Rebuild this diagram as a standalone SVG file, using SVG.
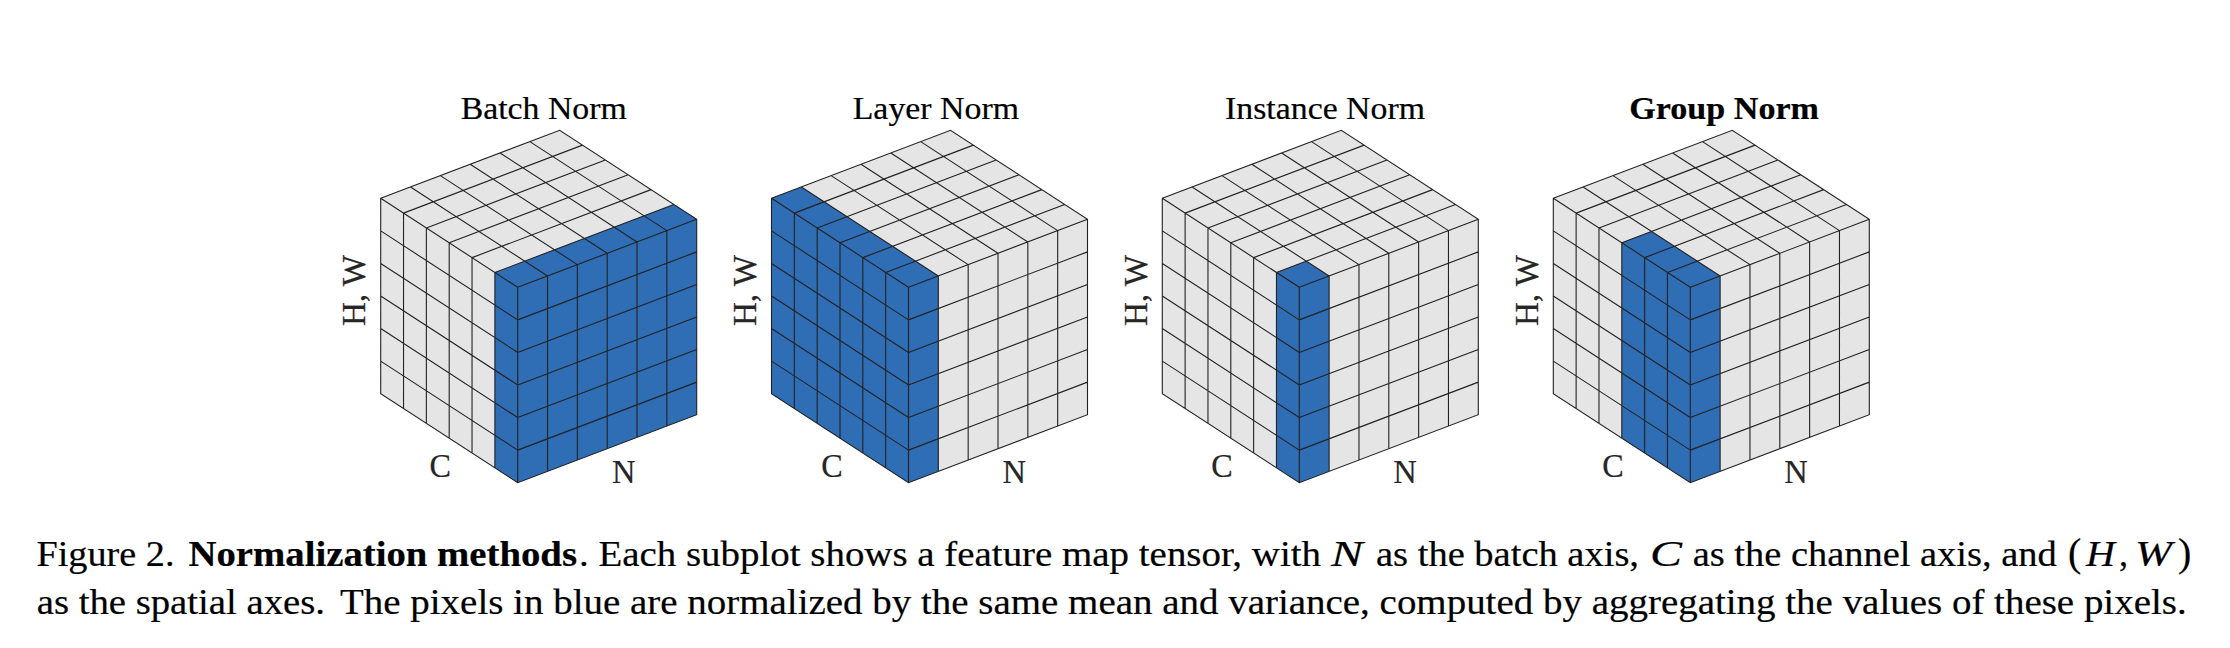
<svg xmlns="http://www.w3.org/2000/svg" width="2230" height="648" viewBox="0 0 2230 648">
<style>
text{font-family:"Liberation Serif","Times New Roman",serif;fill:#000;stroke:#000;stroke-width:.2px}
.title{font-size:32px}
.axis{font-size:34px;fill:#262626;stroke:#262626}
.cap{font-size:36px}
.b{font-weight:bold}
.i{font-style:italic}
.face{fill:#e5e5e5}
.blue{fill:#2f6db5}
.grid{fill:none;stroke:#222;stroke-width:1.1}
</style>
<defs>
<path id="body" class="face" d="M-137-89L42-157L179-68V127.4L0 195.4L-137 106.4Z"/>
<path id="grid" class="grid" d="M-137-89L42-157L179-68V127.4L0 195.4L-137 106.4Z
M0 0v195.4M-22.83-14.83v195.4M-45.67-29.67v195.4M-68.5-44.5v195.4M-91.33-59.33v195.4M-114.17-74.17v195.4
M29.83-11.33v195.4M59.67-22.67v195.4M89.5-34v195.4M119.33-45.33v195.4M149.17-56.67v195.4
M0 0l-137-89M0 32.57l-137-89M0 65.13l-137-89M0 97.7l-137-89M0 130.27l-137-89M0 162.83l-137-89
M0 0l179-68M0 32.57l179-68M0 65.13l179-68M0 97.7l179-68M0 130.27l179-68M0 162.83l179-68
M-22.83-14.83l179-68M-45.67-29.67l179-68M-68.5-44.5l179-68M-91.33-59.33l179-68M-114.17-74.17l179-68
M29.83-11.33l-137-89M59.67-22.67l-137-89M89.5-34l-137-89M119.33-45.33l-137-89M149.17-56.67l-137-89"/>
</defs>

<g id="batch-norm">
<text class="title" x="460.7" y="119.3" textLength="166" lengthAdjust="spacingAndGlyphs">Batch Norm</text>
<g transform="translate(517.7 287.3)">
<use href="#body"/>
<path class="blue" d="M-22.83-14.83L156.17-82.83L179-68V127.4L0 195.4L-22.83 180.57Z"/>
<use href="#grid"/>
</g>
<text class="axis" transform="translate(365 326) rotate(-90)" textLength="71" lengthAdjust="spacingAndGlyphs">H, W</text>
<text class="axis" x="429.5" y="477" textLength="21.5" lengthAdjust="spacingAndGlyphs">C</text>
<text class="axis" x="612" y="482.7" textLength="23.5" lengthAdjust="spacingAndGlyphs">N</text>
</g>

<g id="layer-norm">
<text class="title" x="852.7" y="119.3" textLength="166.3" lengthAdjust="spacingAndGlyphs">Layer Norm</text>
<g transform="translate(908.5 287.3)">
<use href="#body"/>
<path class="blue" d="M-137-89L-107.17-100.33L29.83-11.33V184.07L0 195.4L-137 106.4Z"/>
<use href="#grid"/>
</g>
<text class="axis" transform="translate(755.7 326) rotate(-90)" textLength="71" lengthAdjust="spacingAndGlyphs">H, W</text>
<text class="axis" x="821.2" y="477" textLength="21.5" lengthAdjust="spacingAndGlyphs">C</text>
<text class="axis" x="1002.6" y="482.7" textLength="23.5" lengthAdjust="spacingAndGlyphs">N</text>
</g>

<g id="instance-norm">
<text class="title" x="1225" y="119.3" textLength="200" lengthAdjust="spacingAndGlyphs">Instance Norm</text>
<g transform="translate(1299.3 287.3)">
<use href="#body"/>
<path class="blue" d="M-22.83-14.83L7-26.16L29.83-11.33V184.07L0 195.4L-22.83 180.57Z"/>
<use href="#grid"/>
</g>
<text class="axis" transform="translate(1146.7 326) rotate(-90)" textLength="71" lengthAdjust="spacingAndGlyphs">H, W</text>
<text class="axis" x="1211.2" y="477" textLength="21.5" lengthAdjust="spacingAndGlyphs">C</text>
<text class="axis" x="1393.3" y="482.7" textLength="23.5" lengthAdjust="spacingAndGlyphs">N</text>
</g>

<g id="group-norm">
<text class="title b" x="1629.3" y="119.3" textLength="189.7" lengthAdjust="spacingAndGlyphs">Group Norm</text>
<g transform="translate(1690.3 287.3)">
<use href="#body"/>
<path class="blue" d="M-68.5-44.5L-38.67-55.83L29.83-11.33V184.07L0 195.4L-68.5 150.9Z"/>
<use href="#grid"/>
</g>
<text class="axis" transform="translate(1537.7 326) rotate(-90)" textLength="71" lengthAdjust="spacingAndGlyphs">H, W</text>
<text class="axis" x="1602.2" y="477" textLength="21.5" lengthAdjust="spacingAndGlyphs">C</text>
<text class="axis" x="1784.3" y="482.7" textLength="23.5" lengthAdjust="spacingAndGlyphs">N</text>
</g>

<g id="caption">
<text class="cap" x="36.5" y="566" textLength="138" lengthAdjust="spacingAndGlyphs">Figure 2.</text>
<text class="cap b" x="188.5" y="566" textLength="388.5" lengthAdjust="spacingAndGlyphs">Normalization methods</text>
<text class="cap" x="579" y="566" textLength="742" lengthAdjust="spacingAndGlyphs">. Each subplot shows a feature map tensor, with</text>
<text class="cap i" x="1331" y="566" textLength="32" lengthAdjust="spacingAndGlyphs">N</text>
<text class="cap" x="1376" y="566" textLength="263" lengthAdjust="spacingAndGlyphs">as the batch axis,</text>
<text class="cap i" x="1650" y="566" textLength="32" lengthAdjust="spacingAndGlyphs">C</text>
<text class="cap" x="1692.7" y="566" textLength="364" lengthAdjust="spacingAndGlyphs">as the channel axis, and</text>
<text class="cap" x="2068" y="566" style="font-size:40px">(</text>
<text class="cap i" x="2086" y="566" textLength="29" lengthAdjust="spacingAndGlyphs">H</text>
<text class="cap" x="2119" y="566">,</text>
<text class="cap i" x="2135" y="566" textLength="37" lengthAdjust="spacingAndGlyphs">W</text>
<text class="cap" x="2178" y="566" style="font-size:40px">)</text>
<text class="cap" x="36.7" y="614" textLength="288.3" lengthAdjust="spacingAndGlyphs">as the spatial axes.</text>
<text class="cap" x="340" y="614" textLength="1846.7" lengthAdjust="spacingAndGlyphs">The pixels in blue are normalized by the same mean and variance, computed by aggregating the values of these pixels.</text>
</g>
</svg>
